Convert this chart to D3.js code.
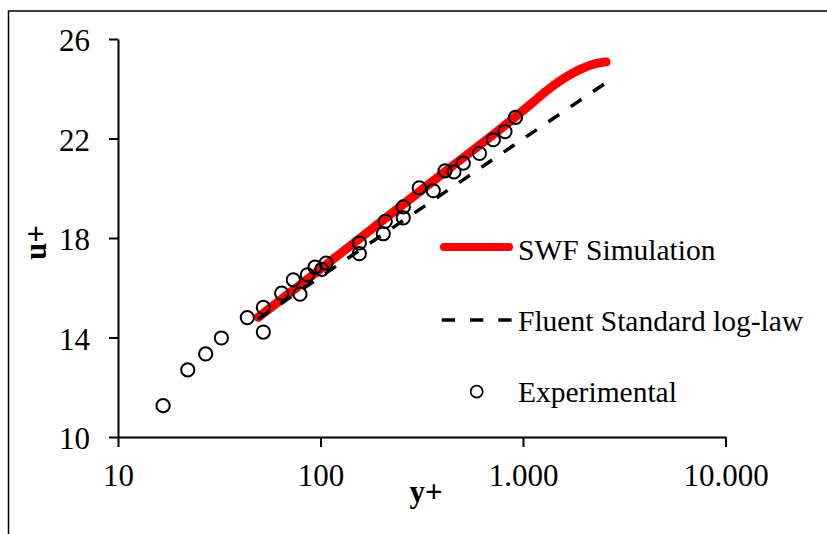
<!DOCTYPE html>
<html>
<head>
<meta charset="utf-8">
<script src="https://cdn.jsdelivr.net/npm/d3@7"></script>
<style>
  body { margin: 0; background: #fff; }
  svg { display: block; }
</style>
</head>
<body>
<script>
// values
var swfYplus = [49.2, 79.2, 140, 247, 436, 770, 1083, 1309, 1581, 1912, 2312, 2570];
var swfUplus = [14.81, 16.11, 17.68, 19.25, 20.82, 22.37, 23.36, 23.92, 24.40, 24.78, 25.02, 25.08];

var logYplus = [49.2, 100, 300, 1000, 2590];
var logUplus = [14.74, 16.44, 19.08, 21.98, 24.26];

var expYplus = [16.7, 22.1, 27.1, 32.4, 43.5, 52.2, 52.2, 64.3, 73.4, 79.2, 86.1, 93.9, 101.4, 106.5,
  155.5, 155.5, 204.2, 208.9, 256.4, 256.4, 307.5, 360.6, 411.9, 456.3, 507.3, 610.0, 713.5, 814.9, 918.5];
var expUplus = [11.26, 12.70, 13.34, 13.98, 14.80, 15.21, 14.22, 15.78, 16.32, 15.74, 16.52, 16.83, 16.74, 16.99,
  17.80, 17.37, 18.17, 18.67, 19.25, 18.81, 20.02, 19.90, 20.70, 20.66, 21.01, 21.40, 21.95, 22.28, 22.85];

var xTicks = [10, 100, 1000, 10000];
var yTicks = [10, 14, 18, 22, 26];

var seriesNames = ["SWF Simulation", "Fluent Standard log-law", "Experimental"];

var width = 827, height = 534;
var font = "'Liberation Serif', 'Times New Roman', serif";

var x = d3.scaleLog().domain([10, 10000]).range([118, 725.5]);
var y = d3.scaleLinear().domain([10, 26]).range([437, 39]);

// 1.000 style thousands
var fmt = d3.formatLocale({ decimal: ",", thousands: ".", grouping: [3], currency: ["", ""] }).format(",d");

var svg = d3.select("body").append("svg")
    .attr("width", width)
    .attr("height", height);

// outer frame (clipped on right and bottom)
svg.append("path")
    .attr("d", "M8.5," + height + "V11H" + width)
    .attr("fill", "none")
    .attr("stroke", "#000")
    .attr("stroke-width", 1.5);

var xAxis = d3.axisBottom(x)
    .tickValues(xTicks)
    .tickFormat(fmt)
    .tickSize(10)
    .tickSizeOuter(0)
    .tickPadding(17);

var yAxis = d3.axisLeft(y)
    .tickValues(yTicks)
    .tickSize(9)
    .tickSizeOuter(0)
    .tickPadding(19);

var gx = svg.append("g")
    .attr("transform", "translate(0," + y(10) + ")")
    .call(xAxis);
gx.attr("font-family", font).attr("font-size", 31);
gx.selectAll("text").attr("fill", "#000");

var gy = svg.append("g")
    .attr("transform", "translate(" + x(10) + ",0)")
    .call(yAxis);
gy.attr("font-family", font).attr("font-size", 31);
gy.selectAll("text").attr("fill", "#000").attr("dy", "0.38em");

svg.selectAll(".domain, .tick line")
    .attr("stroke", "#000")
    .attr("stroke-width", 2);

// axis titles
svg.append("text")
    .attr("x", 426)
    .attr("y", 502)
    .attr("text-anchor", "middle")
    .attr("font-family", font)
    .attr("font-size", 31)
    .attr("font-weight", "bold")
    .text("y+");

svg.append("text")
    .attr("transform", "translate(46,242.5) rotate(-90)")
    .attr("text-anchor", "middle")
    .attr("font-family", font)
    .attr("font-size", 31)
    .attr("font-weight", "bold")
    .text("u+");

var line = d3.line()
    .x(function(d) { return x(d[0]); })
    .y(function(d) { return y(d[1]); })
    .curve(d3.curveMonotoneX);

var swf = d3.zip(swfYplus, swfUplus);
var logLaw = d3.zip(logYplus, logUplus);
var exp = d3.zip(expYplus, expUplus);

svg.append("path")
    .datum(swf)
    .attr("d", line)
    .attr("fill", "none")
    .attr("stroke", "#ff0000")
    .attr("stroke-width", 9)
    .attr("stroke-linecap", "round")
    .attr("stroke-linejoin", "round");

svg.append("path")
    .datum(logLaw)
    .attr("d", line)
    .attr("fill", "none")
    .attr("stroke", "#000")
    .attr("stroke-width", 3.5)
    .attr("stroke-dasharray", "13,14");

svg.selectAll("circle.exp")
    .data(exp)
  .enter().append("circle")
    .attr("class", "exp")
    .attr("cx", function(d) { return x(d[0]); })
    .attr("cy", function(d) { return y(d[1]); })
    .attr("r", 6.6)
    .attr("fill", "none")
    .attr("stroke", "#000")
    .attr("stroke-width", 2);

// legend
var legend = svg.append("g").attr("font-family", font).attr("font-size", 29.5);

legend.append("line")
    .attr("x1", 444).attr("x2", 509)
    .attr("y1", 247).attr("y2", 247)
    .attr("stroke", "#ff0000")
    .attr("stroke-width", 8)
    .attr("stroke-linecap", "round");
legend.append("text").attr("x", 518).attr("y", 260).text(seriesNames[0]);

legend.append("line")
    .attr("x1", 441.7).attr("x2", 512)
    .attr("y1", 320).attr("y2", 320)
    .attr("stroke", "#000")
    .attr("stroke-width", 3.5)
    .attr("stroke-dasharray", "13.3,15");
legend.append("text").attr("x", 518).attr("y", 331).text(seriesNames[1]);

legend.append("circle")
    .attr("cx", 476.7).attr("cy", 391.7)
    .attr("r", 6)
    .attr("fill", "none")
    .attr("stroke", "#000")
    .attr("stroke-width", 1.8);
legend.append("text").attr("x", 518).attr("y", 401.7).text(seriesNames[2]);
</script>
</body>
</html>
